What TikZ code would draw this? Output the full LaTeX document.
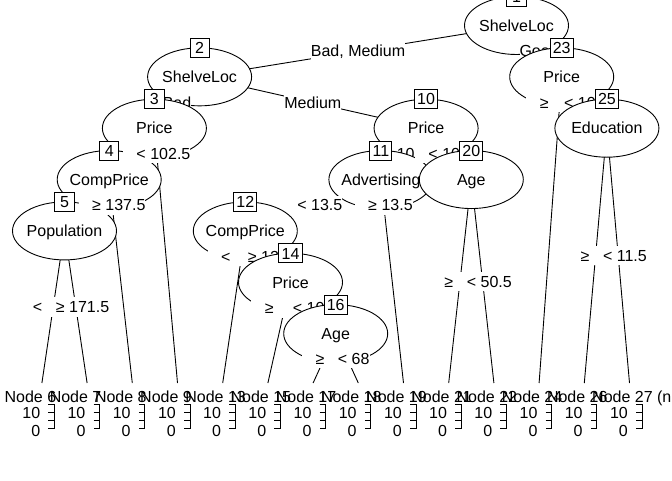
\documentclass[tikz,border=0pt]{standalone}
\usepackage{fontspec}
\setmainfont{Liberation Sans}
\usetikzlibrary{calc,shapes.geometric}
\tikzset{
  edgeline/.style={line width=0.9pt},
  innerell/.style={ellipse, draw, fill=white, line width=0.9pt, minimum width=104pt, minimum height=58pt, inner sep=0pt},
  innertxt/.style={inner sep=0pt, text height=11.5pt, text depth=0pt, font=\fontsize{16}{19.2}\selectfont},
  idbox/.style={rectangle, draw, fill=white, line width=0.9pt, minimum width=19.2pt, minimum height=19.2pt, inner xsep=2.7pt, inner ysep=0pt, text height=11.5pt, text depth=0pt, font=\fontsize{16}{19.2}\selectfont},
  lab/.style={rectangle, fill=white, inner sep=0pt, minimum height=19.2pt, text height=11.5pt, text depth=0pt, font=\fontsize{16}{19.2}\selectfont},
  hdr/.style={anchor=west, inner sep=0pt, text height=11.5pt, text depth=0pt, font=\fontsize{16}{19.2}\selectfont},
  axnum/.style={anchor=east, inner sep=0pt, text height=11.5pt, text depth=0pt, font=\fontsize{16}{19.2}\selectfont},
  axisline/.style={line width=0.9pt}
}
\newcommand{\edgelab}[2]{\phantom{0}\hspace{4.5pt}#1\hspace{4.5pt}#2}
\newcommand{\drawinner}[2]{%
  \node[innerell] (e#1) at (n#1) {};
  \node[innertxt] (v#1) at (n#1) {#2};
  \node[idbox] (b#1) at ($(n#1)+(0,-29)$) {#1};
}
\newcommand{\leafpanel}[2]{%
  \node[hdr] (h#1) at ($(t#1)+(-37.5,14)$) {#2};
  \node[axnum] (a#1) at ($(t#1)+(-1.5,30)$) {10};
  \node[axnum] (z#1) at ($(t#1)+(-1.5,47.5)$) {0};
  \draw[axisline] ($(t#1)+(6.5,21.5)$) -- ($(t#1)+(12.5,21.5)$) -- ($(t#1)+(12.5,45.5)$) -- ($(t#1)+(6.5,45.5)$);
  \draw[axisline] ($(t#1)+(6.5,29.5)$) -- ($(t#1)+(12.5,29.5)$);
  \draw[axisline] ($(t#1)+(6.5,37.5)$) -- ($(t#1)+(12.5,37.5)$);
}
\begin{document}
\begin{tikzpicture}[x=1pt,y=-1pt]
\useasboundingbox (0,0) rectangle (672,480);
\fill[white] (0,0) rectangle (672,480);
% inner node centres
\coordinate (n1) at (516.5,25.5);
\coordinate (n2) at (199.6,76.85);
\coordinate (n23) at (561.7,76.85);
\coordinate (n3) at (154.4,128.2);
\coordinate (n10) at (426.1,128.2);
\coordinate (n25) at (606.9,128.2);
\coordinate (n4) at (109.2,179.55);
\coordinate (n11) at (380.9,179.55);
\coordinate (n20) at (471.3,179.55);
\coordinate (n5) at (64.5,230.9);
\coordinate (n12) at (245.3,230.9);
\coordinate (n14) at (290.5,282.25);
\coordinate (n16) at (335.7,333.6);
% terminal panel tops
\coordinate (t6) at (41.9,383);
\coordinate (t7) at (87.1,383);
\coordinate (t8) at (132.3,383);
\coordinate (t9) at (177.5,383);
\coordinate (t13) at (222.7,383);
\coordinate (t15) at (267.9,383);
\coordinate (t17) at (313.1,383);
\coordinate (t18) at (358.3,383);
\coordinate (t19) at (403.5,383);
\coordinate (t21) at (448.7,383);
\coordinate (t22) at (493.9,383);
\coordinate (t24) at (539.1,383);
\coordinate (t26) at (584.3,383);
\coordinate (t27) at (629.5,383);

% node 1
\draw[edgeline] (n1) -- (n2);
\draw[edgeline] (n1) -- (n23);
\drawinner{1}{ShelveLoc}
\node[lab] (l2) at ($(n1)!0.5!(n2)$) {Bad, Medium};
 % node 2
 \draw[edgeline] (n2) -- (n3);
 \draw[edgeline] (n2) -- (n10);
 \drawinner{2}{ShelveLoc}
 \node[lab] (l3) at ($(n2)!0.5!(n3)$) {Bad};
  % node 3
  \draw[edgeline] (n3) -- (n4);
  \draw[edgeline] (n3) -- (t9);
  \drawinner{3}{Price}
  \node[lab] (l4) at ($(n3)!0.5!(n4)$) {\edgelab{≥}{102.5}};
   % node 4
   \draw[edgeline] (n4) -- (n5);
   \draw[edgeline] (n4) -- (t8);
   \drawinner{4}{CompPrice}
   \node[lab] (l5) at ($(n4)!0.5!(n5)$) {\edgelab{<}{137.5}};
    % node 5
    \draw[edgeline] (n5) -- (t6);
    \draw[edgeline] (n5) -- (t7);
    \drawinner{5}{Population}
    \node[lab] (l6) at ($(n5)!0.5!(t6)$) {\edgelab{<}{171.5}};
    \leafpanel{6}{Node 6}
    \node[lab] (l7) at ($(n5)!0.5!(t7)$) {\edgelab{≥}{171.5}};
    \leafpanel{7}{Node 7}
   \node[lab] (l8) at ($(n4)!0.1262!(t8)$) {\edgelab{≥}{137.5}};
   \leafpanel{8}{Node 8}
  \node[lab] (l9) at ($(n3)!0.10077!(t9)$) {\edgelab{<}{102.5}};
  \leafpanel{9}{Node 9}
 \node[lab] (l10) at ($(n2)!0.5!(n10)$) {Medium};
  % node 10
  \draw[edgeline] (n10) -- (n11);
  \draw[edgeline] (n10) -- (n20);
  \drawinner{10}{Price}
  \node[lab] (l11) at ($(n10)!0.5!(n11)$) {\edgelab{≥}{105.5}};
   % node 11
   \draw[edgeline] (n11) -- (n12);
   \draw[edgeline] (n11) -- (t19);
   \drawinner{11}{Advertising}
   \node[lab] (l12) at ($(n11)!0.5!(n12)$) {\edgelab{<}{13.5}};
    % node 12
    \draw[edgeline] (n12) -- (t13);
    \draw[edgeline] (n12) -- (n14);
    \drawinner{12}{CompPrice}
    \node[lab] (l13) at ($(n12)!0.1688!(t13)$) {\edgelab{<}{124.5}};
    \leafpanel{13}{Node 13}
    \node[lab] (l14) at ($(n12)!0.5!(n14)$) {\edgelab{≥}{124.5}};
     % node 14
     \draw[edgeline] (n14) -- (t15);
     \draw[edgeline] (n14) -- (n16);
     \drawinner{14}{Price}
     \node[lab] (l15) at ($(n14)!0.2548!(t15)$) {\edgelab{≥}{109.5}};
     \leafpanel{15}{Node 15}
     \node[lab] (l16) at ($(n14)!0.5!(n16)$) {\edgelab{<}{109.5}};
      % node 16
      \draw[edgeline] (n16) -- (t17);
      \draw[edgeline] (n16) -- (t18);
      \drawinner{16}{Age}
      \node[lab] (l17) at ($(n16)!0.5!(t17)$) {\edgelab{≥}{68}};
      \leafpanel{17}{Node 17}
      \node[lab] (l18) at ($(n16)!0.5!(t18)$) {\edgelab{<}{68}};
      \leafpanel{18}{Node 18}
   \node[lab] (l19) at ($(n11)!0.1262!(t19)$) {\edgelab{≥}{13.5}};
   \leafpanel{19}{Node 19}
  \node[lab] (l20) at ($(n10)!0.5!(n20)$) {\edgelab{<}{105.5}};
   % node 20
   \draw[edgeline] (n20) -- (t21);
   \draw[edgeline] (n20) -- (t22);
   \drawinner{20}{Age}
   \node[lab] (l21) at ($(n20)!0.5!(t21)$) {\edgelab{≥}{50.5}};
   \leafpanel{21}{Node 21}
   \node[lab] (l22) at ($(n20)!0.5!(t22)$) {\edgelab{<}{50.5}};
   \leafpanel{22}{Node 22}
\node[lab] (l23) at ($(n1)!0.5!(n23)$) {Good};
 % node 23
 \draw[edgeline] (n23) -- (t24);
 \draw[edgeline] (n23) -- (n25);
 \drawinner{23}{Price}
 \node[lab] (l24) at ($(n23)!0.08386!(t24)$) {\edgelab{≥}{109.5}};
 \leafpanel{24}{Node 24}
 \node[lab] (l25) at ($(n23)!0.5!(n25)$) {\edgelab{<}{109.5}};
  % node 25
  \draw[edgeline] (n25) -- (t26);
  \draw[edgeline] (n25) -- (t27);
  \drawinner{25}{Education}
  \node[lab] (l26) at ($(n25)!0.5!(t26)$) {\edgelab{≥}{11.5}};
  \leafpanel{26}{Node 26}
  \node[lab] (l27) at ($(n25)!0.5!(t27)$) {\edgelab{<}{11.5}};
  \leafpanel{27}{Node 27 (n}
\end{tikzpicture}
\end{document}
